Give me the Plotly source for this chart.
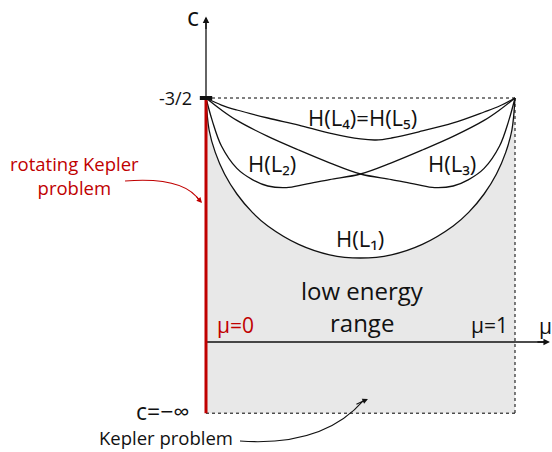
import plotly.graph_objects as go

# Energy levels H(L_i) of the Lagrange points as functions of the mass ratio mu
mu_L1 = [0, 0.01, 0.03, 0.06, 0.1, 0.15, 0.2, 0.3, 0.4, 0.5, 0.6, 0.7, 0.8, 0.85, 0.9, 0.94, 0.97, 0.99, 1]
c_L1 = [-1.5, -1.70, -1.84, -1.975, -2.10, -2.215, -2.30, -2.415, -2.48, -2.50,
        -2.48, -2.415, -2.30, -2.215, -2.10, -1.975, -1.84, -1.70, -1.5]

mu_L2 = [0, 0.02, 0.05, 0.1, 0.15, 0.2, 0.26, 0.32, 0.4, 0.5, 0.6, 0.7, 0.8, 0.9, 0.95, 1]
c_L2 = [-1.5, -1.64, -1.80, -1.94, -2.01, -2.05, -2.06, -2.04, -2.01, -1.975,
        -1.905, -1.825, -1.74, -1.64, -1.575, -1.5]

mu_L3 = [0, 0.05, 0.1, 0.2, 0.3, 0.4, 0.5, 0.6, 0.68, 0.74, 0.8, 0.85, 0.9, 0.95, 0.98, 1]
c_L3 = [-1.5, -1.575, -1.64, -1.74, -1.825, -1.905, -1.975, -2.01, -2.04, -2.06,
        -2.05, -2.01, -1.94, -1.80, -1.64, -1.5]

mu_L45 = [0, 0.05, 0.1, 0.2, 0.3, 0.4, 0.5, 0.55, 0.6, 0.7, 0.8, 0.9, 0.95, 1]
c_L45 = [-1.5, -1.544, -1.575, -1.625, -1.669, -1.719, -1.756, -1.7625, -1.75,
         -1.706, -1.656, -1.5875, -1.55, -1.5]

# Frame of the (mu, c) region
mu_min, mu_max = 0, 1
c_top = -1.5          # c = -3/2
c_bottom = -3.47      # stands for c = -infinity
c_axis = -3.025       # level where the mu axis is drawn

BLACK = "#111111"
RED = "#c00000"
GREY = "#e8e8e8"
FONT = "Open Sans"

fig = go.Figure()

# Low energy range: shaded area below H(L1)
fig.add_trace(go.Scatter(x=[mu_min, mu_max], y=[c_bottom, c_bottom], mode="lines",
                         line=dict(width=0, color=GREY), hoverinfo="skip", showlegend=False))
fig.add_trace(go.Scatter(x=mu_L1, y=c_L1, mode="lines", fill="tonexty", fillcolor=GREY,
                         line=dict(width=0, shape="spline", color=GREY),
                         hoverinfo="skip", showlegend=False))

# Dashed frame: c = -3/2 on top, mu = 1 at the right, c = -infinity at the bottom
dash = dict(color="#000000", width=1, dash="3px,3px")
fig.add_trace(go.Scatter(x=[mu_min, mu_max], y=[c_top, c_top], mode="lines", line=dash, showlegend=False))
fig.add_trace(go.Scatter(x=[mu_max, mu_max], y=[c_top, c_bottom], mode="lines", line=dash, showlegend=False))
fig.add_trace(go.Scatter(x=[mu_min, mu_max], y=[c_bottom, c_bottom], mode="lines", line=dash, showlegend=False))

# Energy curves
for mu, c in [(mu_L45, c_L45), (mu_L2, c_L2), (mu_L3, c_L3), (mu_L1, c_L1)]:
    fig.add_trace(go.Scatter(x=mu, y=c, mode="lines",
                             line=dict(color=BLACK, width=1.3, shape="spline", smoothing=1),
                             showlegend=False))

# mu axis line
fig.add_trace(go.Scatter(x=[mu_min, 1.105], y=[c_axis, c_axis], mode="lines",
                         line=dict(color=BLACK, width=1.3), showlegend=False))
# c axis line above -3/2
fig.add_trace(go.Scatter(x=[0, 0], y=[c_top, -1.0], mode="lines",
                         line=dict(color=BLACK, width=1.3), showlegend=False))
# Rotating Kepler problem: mu = 0
fig.add_trace(go.Scatter(x=[0, 0], y=[c_top, c_bottom], mode="lines",
                         line=dict(color=RED, width=3), showlegend=False))
# tick at -3/2
fig.add_trace(go.Scatter(x=[-0.02, 0.02], y=[c_top, c_top], mode="lines",
                         line=dict(color=BLACK, width=4), showlegend=False))

ann = []

def text(x, y, s, size=17, color=BLACK, xanchor="center"):
    ann.append(dict(x=x, y=y, text=s, showarrow=False, xanchor=xanchor, yanchor="middle",
                    font=dict(family=FONT, size=size, color=color)))

# Axis arrowheads
ann.append(dict(x=1.113, y=c_axis, ax=-14, ay=0, text="", showarrow=True,
                arrowhead=2, arrowsize=1, arrowwidth=1.3, arrowcolor=BLACK))
ann.append(dict(x=0, y=-0.99, ax=0, ay=14, text="", showarrow=True,
                arrowhead=2, arrowsize=1, arrowwidth=1.3, arrowcolor=BLACK))

text(-0.042, -0.985, "c", size=25)
text(-0.040, c_top, "-3/2", size=18, xanchor="right")
text(1.10, -2.925, "μ", size=21)
text(0.030, -2.92, "μ=0", size=21, color=RED, xanchor="left")
text(0.985, -2.92, "μ=1", size=21, xanchor="right")
text(-0.045, -3.455, "c=−∞", size=23, xanchor="right")
text(-0.13, -3.62, "Kepler problem", size=18.5)
text(-0.425, -1.985, "rotating Kepler<br>problem", size=18.5, color=RED)

text(0.505, -1.619, "H(L₄)=H(L₅)", size=22)
text(0.214, -1.906, "H(L₂)", size=22)
text(0.796, -1.906, "H(L₃)", size=22)
text(0.498, -2.375, "H(L₁)", size=22)
text(0.505, -2.70, "low energy", size=24)
text(0.505, -2.90, "range", size=24)

# Curved pointers with arrowheads
ann.append(dict(x=0.524, y=-3.381, ax=-13, ay=6, text="", showarrow=True,
                arrowhead=2, arrowsize=1, arrowwidth=1.1, arrowcolor=BLACK))
ann.append(dict(x=-0.013, y=-2.156, ax=-7, ay=-8, text="", showarrow=True,
                arrowhead=2, arrowsize=1, arrowwidth=1.1, arrowcolor=RED))

shapes = [
    dict(type="path", xref="x", yref="y",
         path="M 0.110,-3.644 Q 0.38,-3.68 0.51,-3.39",
         line=dict(color=BLACK, width=1.1)),
    dict(type="path", xref="x", yref="y",
         path="M -0.262,-2.019 Q -0.07,-1.99 -0.02,-2.145",
         line=dict(color=RED, width=1.1)),
]

fig.update_layout(
    width=552, height=452,
    margin=dict(l=0, r=0, t=0, b=0),
    paper_bgcolor="white", plot_bgcolor="white",
    xaxis=dict(range=[-206 / 309, 346 / 309], visible=False, fixedrange=True),
    yaxis=dict(range=[-3.7125, -0.8875], visible=False, fixedrange=True),
    annotations=ann, shapes=shapes,
)

fig.write_html("out.html")
